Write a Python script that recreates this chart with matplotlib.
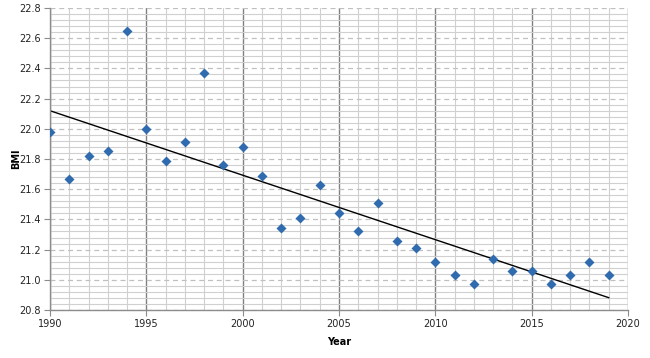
import matplotlib
matplotlib.use("Agg")
import matplotlib.pyplot as plt
import numpy as np
from matplotlib.ticker import MultipleLocator

years = [1990, 1991, 1992, 1993, 1994, 1995, 1996, 1997, 1998, 1999,
         2000, 2001, 2002, 2003, 2004, 2005, 2006, 2007, 2008, 2009,
         2010, 2011, 2012, 2013, 2014, 2015, 2016, 2017, 2018, 2019]
bmi = [21.98, 21.67, 21.82, 21.85, 22.65, 22.00, 21.79, 21.91, 22.37, 21.76,
       21.88, 21.69, 21.34, 21.41, 21.63, 21.44, 21.32, 21.51, 21.26, 21.21,
       21.12, 21.03, 20.97, 21.14, 21.06, 21.06, 20.97, 21.03, 21.12, 21.03]

fig = plt.figure(figsize=(6.5, 3.58), dpi=100)
ax = fig.add_axes([50/650, 1 - 310/358, 578/650, 302/358])

ax.set_xlim(1990, 2020)
ax.set_ylim(20.8, 22.8)
ax.xaxis.set_major_locator(MultipleLocator(5))
ax.xaxis.set_minor_locator(MultipleLocator(1))
ax.yaxis.set_major_locator(MultipleLocator(0.2))
ax.yaxis.set_minor_locator(MultipleLocator(0.04))

ax.grid(which='minor', axis='both', color='#d0d0d0', linewidth=0.8, linestyle='-')
ax.grid(which='major', axis='x', color='#808080', linewidth=1.0, linestyle='-')
ax.grid(which='major', axis='y', color='#c0c0c0', linewidth=0.9, linestyle=(0, (4, 3)))
ax.set_axisbelow(True)

for s in ['top', 'right']:
    ax.spines[s].set_visible(False)
for s in ['left', 'bottom']:
    ax.spines[s].set_color('#8c8c8c')
    ax.spines[s].set_linewidth(1.0)

ax.tick_params(which='major', length=4, color='#8c8c8c', labelsize=7, labelcolor='#222222', pad=2.5)
ax.tick_params(which='minor', length=0)
ax.yaxis.set_major_formatter(matplotlib.ticker.FormatStrFormatter('%.1f'))

ax.scatter(years, bmi, marker='D', s=26, color='#2F6BAE', zorder=3, linewidths=0)

coef = np.polyfit(years, bmi, 1)
xt = np.array([years[0], years[-1]])
ax.plot(xt, np.polyval(coef, xt), color='black', linewidth=1.0, zorder=2)

ax.set_xlabel('Year', fontsize=7, fontweight='bold', labelpad=6)
ax.set_ylabel('BMI', fontsize=7, fontweight='bold')
ax.yaxis.set_label_coords(-0.05, 0.5)

fig.savefig('out.png', dpi=100)
